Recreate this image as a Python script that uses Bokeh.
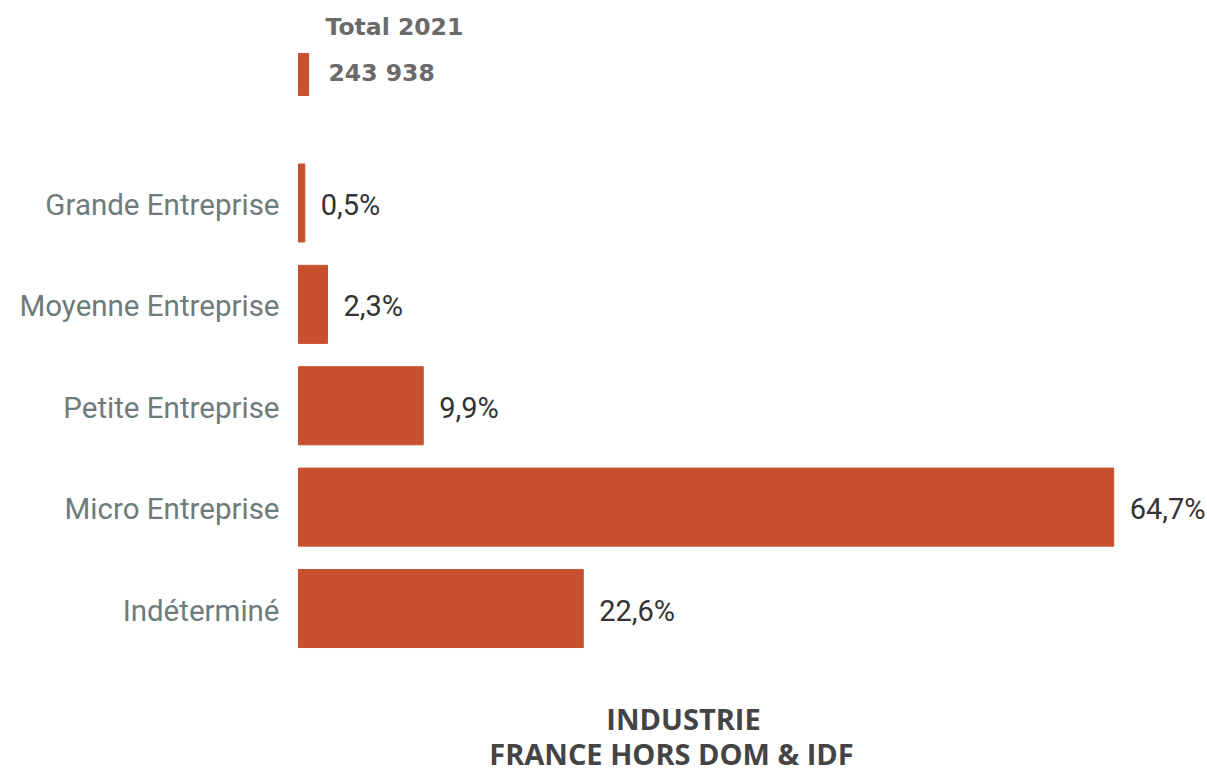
from bokeh.plotting import figure
from bokeh.models import ColumnDataSource, Label
from bokeh.core.properties import value
from bokeh.embed import file_html
from bokeh.resources import INLINE

categories = ["Indéterminé", "Micro Entreprise", "Petite Entreprise", "Moyenne Entreprise", "Grande Entreprise"]
shares = [22.6, 64.7, 9.9, 2.3, 0.5]
share_labels = ["22,6%", "64,7%", "9,9%", "2,3%", "0,5%"]
total_title = "Total 2021"
total_value = "243 938"
total_marker = [0.8]
title_lines = ["INDUSTRIE", "FRANCE HORS DOM & IDF"]

BAR = "#C8502F"
W, H = 1207, 774
px_per_unit = 12.6
left_px = 298
step = 101.375
first_center_from_top = 608

p = figure(width=W, height=H, output_backend="svg", toolbar_location=None,
           x_range=(-left_px / px_per_unit, (W - left_px) / px_per_unit),
           y_range=(-(H - first_center_from_top) / step, first_center_from_top / step),
           min_border=0, outline_line_color=None)
p.axis.visible = False
p.grid.visible = False
p.background_fill_color = "white"
p.border_fill_color = "white"

ys = list(range(len(categories)))
src = ColumnDataSource(dict(y=ys, v=shares, cat=categories, lab=share_labels))
p.hbar(y="y", left=0, right="v", height=0.77, color=BAR, source=src)

p.text(x=0, y="y", text="cat", source=src, x_offset=-19, y_offset=2, text_align="right",
       text_baseline="middle", text_font=value("Roboto"), text_font_size="29.5px",
       text_color="#6E7B7B")
p.text(x="v", y="y", text="lab", source=src, x_offset=16, y_offset=2, text_align="left",
       text_baseline="middle", text_font=value("Roboto"), text_font_size="29px",
       text_color="#333333")

# total marker bar
ty = (first_center_from_top - 74) / step
tsrc = ColumnDataSource(dict(y=[ty], v=total_marker))
p.hbar(y="y", left=0, right="v", height=0.414, color=BAR, source=tsrc)

p.add_layout(Label(x=325, y=H - 26, x_units="screen", y_units="screen", text=total_title,
                   text_font="DejaVu Sans", text_font_style="bold", text_font_size="23.5px",
                   text_color="#6A6A6A", text_baseline="middle"))
p.add_layout(Label(x=328, y=H - 72, x_units="screen", y_units="screen", text=total_value,
                   text_font="DejaVu Sans", text_font_style="bold", text_font_size="23.5px",
                   text_color="#6A6A6A", text_baseline="middle"))

p.add_layout(Label(x=683, y=H - 718, x_units="screen", y_units="screen", text=title_lines[0],
                   text_font="Open Sans", text_font_style="bold", text_font_size="29px",
                   text_color="#444444", text_align="center", text_baseline="middle"))
p.add_layout(Label(x=671, y=H - 753, x_units="screen", y_units="screen", text=title_lines[1],
                   text_font="Open Sans", text_font_style="bold", text_font_size="29px",
                   text_color="#444444", text_align="center", text_baseline="middle"))

open("out.html", "w").write(file_html(p, INLINE))
